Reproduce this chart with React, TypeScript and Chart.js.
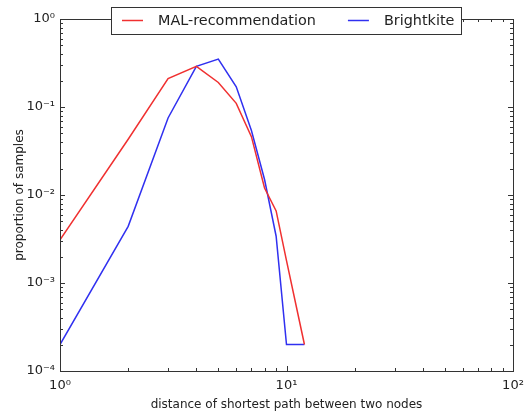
import { useEffect, useRef } from "react";
import { Chart, registerables } from "chart.js";

Chart.register(...registerables);

// Shortest-path distance distribution (log-log)
const distances = [1, 2, 3, 4, 5, 6, 7, 8, 9, 10, 11, 12];
const malRecommendation = [0.0031, 0.043, 0.21, 0.29, 0.19, 0.11, 0.046, 0.012, 0.0066, 0.0018, 0.00057, 0.0002];
const brightkite = [0.0002, 0.0044, 0.075, 0.29, 0.35, 0.17, 0.054, 0.015, 0.0034, 0.0002, 0.0002, 0.0002];

const xTickValues = [1, 10, 100];
const yTickValues = [1e-4, 1e-3, 1e-2, 1e-1, 1];

const seriesLabels = ["MAL-recommendation", "Brightkite"];
const seriesColors = ["#f03030", "#3030f0"];

const FONT = "'DejaVu Sans', 'Liberation Sans', sans-serif";
const SUP: Record<string, string> = {
  "-": "\u207B", "0": "\u2070", "1": "\u00B9", "2": "\u00B2", "3": "\u00B3",
  "4": "\u2074", "5": "\u2075", "6": "\u2076", "7": "\u2077", "8": "\u2078", "9": "\u2079",
};

function powerLabel(v: number): string {
  const e = Math.round(Math.log10(v));
  return "10" + String(e).split("").map((c) => SUP[c] ?? c).join("");
}

// Frame with inward major/minor ticks on all four sides
const framePlugin = {
  id: "logFrame",
  afterDatasetsDraw(chart: any) {
    const { ctx, chartArea } = chart;
    const { left, right, top, bottom } = chartArea;
    const xs = chart.scales.x;
    const ys = chart.scales.y;
    ctx.save();
    ctx.strokeStyle = "#333";
    ctx.lineWidth = 1;
    ctx.beginPath();
    const major = 5;
    const minor = 3;
    const decadeTicks = (min: number, max: number) => {
      const out: { v: number; len: number }[] = [];
      const d0 = Math.floor(Math.log10(min));
      const d1 = Math.ceil(Math.log10(max));
      for (let d = d0; d <= d1; d++) {
        for (let k = 1; k <= 9; k++) {
          const v = k * Math.pow(10, d);
          if (v < min * 0.9999 || v > max * 1.0001) continue;
          out.push({ v, len: k === 1 ? major : minor });
        }
      }
      return out;
    };
    for (const t of decadeTicks(xs.min, xs.max)) {
      const px = Math.round(xs.getPixelForValue(t.v)) + 0.5;
      ctx.moveTo(px, bottom);
      ctx.lineTo(px, bottom - t.len);
      ctx.moveTo(px, top);
      ctx.lineTo(px, top + t.len);
    }
    for (const t of decadeTicks(ys.min, ys.max)) {
      const py = Math.round(ys.getPixelForValue(t.v)) + 0.5;
      ctx.moveTo(left, py);
      ctx.lineTo(left + t.len, py);
      ctx.moveTo(right, py);
      ctx.lineTo(right - t.len, py);
    }
    ctx.stroke();
    ctx.strokeRect(Math.round(left) + 0.5, Math.round(top) + 0.5, Math.round(right - left), Math.round(bottom - top));
    ctx.restore();
  },
};

// Boxed legend centred on the top edge of the plot
const boxLegendPlugin = {
  id: "boxLegend",
  afterDraw(chart: any) {
    const { ctx, chartArea } = chart;
    const fontSize = 14.4;
    const padL = 11;
    const sample = 21;
    const gap = 15;
    const between = 32;
    const padR = 7;
    const boxH = 27;
    ctx.save();
    ctx.font = `${fontSize}px ${FONT}`;
    const items = chart.data.datasets.map((ds: any) => ({
      label: ds.label as string,
      color: ds.borderColor as string,
      w: ctx.measureText(ds.label).width,
    }));
    let total = padL + padR;
    items.forEach((it: any, i: number) => {
      total += sample + gap + it.w + (i < items.length - 1 ? between : 0);
    });
    const cx = (chartArea.left + chartArea.right) / 2;
    const cy = chartArea.top + 1.5;
    const x0 = Math.round(cx - total / 2);
    const y0 = Math.round(cy - boxH / 2);
    ctx.fillStyle = "#ffffff";
    ctx.fillRect(x0, y0, total, boxH);
    ctx.strokeStyle = "#333";
    ctx.lineWidth = 1;
    ctx.strokeRect(x0 + 0.5, y0 + 0.5, Math.round(total), boxH);
    let x = x0 + padL;
    const ly = y0 + boxH / 2;
    ctx.textBaseline = "middle";
    ctx.textAlign = "left";
    items.forEach((it: any) => {
      ctx.strokeStyle = it.color;
      ctx.lineWidth = 1.5;
      ctx.beginPath();
      ctx.moveTo(x, ly);
      ctx.lineTo(x + sample, ly);
      ctx.stroke();
      x += sample + gap;
      ctx.fillStyle = "#222";
      ctx.fillText(it.label, x, ly + 0.5);
      x += it.w + between;
    });
    ctx.restore();
  },
};

export default function App() {
  const canvasRef = useRef<HTMLCanvasElement | null>(null);

  useEffect(() => {
    document.body.style.margin = "0";
    const canvas = canvasRef.current;
    if (!canvas) return;

    const chart = new Chart(canvas, {
      type: "line",
      data: {
        datasets: [
          {
            label: seriesLabels[0],
            data: distances.map((d, i) => ({ x: d, y: malRecommendation[i] })),
            borderColor: seriesColors[0],
            backgroundColor: seriesColors[0],
          },
          {
            label: seriesLabels[1],
            data: distances.map((d, i) => ({ x: d, y: brightkite[i] })),
            borderColor: seriesColors[1],
            backgroundColor: seriesColors[1],
          },
        ],
      },
      options: {
        responsive: false,
        animation: false,
        layout: { padding: { top: 19, right: 14, left: 0, bottom: 0 } },
        elements: {
          point: { radius: 0, hoverRadius: 0 },
          line: { tension: 0, borderWidth: 1.5 },
        },
        plugins: {
          legend: { display: false },
          tooltip: { enabled: false },
        },
        scales: {
          x: {
            type: "logarithmic",
            min: 1,
            max: 100,
            grid: { display: false, drawTicks: false },
            border: { display: false },
            afterBuildTicks: (scale: any) => {
              scale.ticks = xTickValues.map((v) => ({ value: v, major: true }));
            },
            afterFit: (scale: any) => {
              scale.height = 42;
              scale.paddingLeft = 0;
              scale.paddingRight = 0;
            },
            ticks: {
              padding: 7,
              autoSkip: false,
              maxRotation: 0,
              color: "#222",
              font: { family: FONT, size: 13 },
              callback: (value: any) => powerLabel(Number(value)),
            },
            title: {
              display: true,
              text: "distance of shortest path between two nodes",
              color: "#222",
              font: { family: FONT, size: 12 },
              padding: { top: 0, bottom: 1 },
            },
          },
          y: {
            type: "logarithmic",
            min: 1e-4,
            max: 1,
            grid: { display: false, drawTicks: false },
            border: { display: false },
            afterBuildTicks: (scale: any) => {
              scale.ticks = yTickValues.map((v) => ({ value: v, major: true }));
            },
            afterFit: (scale: any) => {
              scale.width = 60;
              scale.paddingTop = 0;
              scale.paddingBottom = 0;
            },
            ticks: {
              padding: 5,
              autoSkip: false,
              color: "#222",
              font: { family: FONT, size: 13 },
              callback: (value: any) => powerLabel(Number(value)),
            },
            title: {
              display: true,
              text: "proportion of samples",
              color: "#222",
              font: { family: FONT, size: 12 },
              padding: { top: 13, bottom: 0 },
            },
          },
        },
      },
      plugins: [framePlugin, boxLegendPlugin],
    } as any);

    return () => {
      chart.destroy();
    };
  }, []);

  return (
    <div style={{ width: 527, height: 413 }}>
      <canvas ref={canvasRef} width={527} height={413} style={{ display: "block" }} />
    </div>
  );
}
